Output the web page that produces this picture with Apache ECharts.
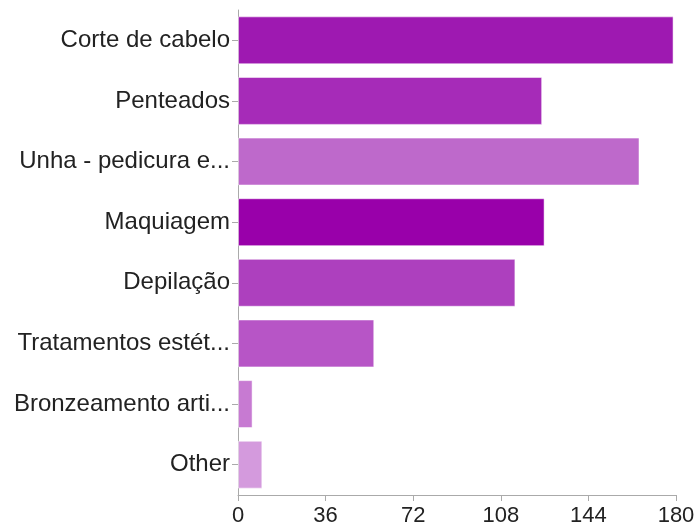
<!DOCTYPE html>
<html><head><meta charset="utf-8">
<script src="https://cdn.jsdelivr.net/npm/echarts@6/dist/echarts.min.js"></script>
<style>html,body{margin:0;padding:0;background:#fff}#c{width:699px;height:530px}</style>
</head><body><div id="c"></div>
<script>
const categories = ["Corte de cabelo","Penteados","Unha - pedicura e...","Maquiagem","Depilação","Tratamentos estét...","Bronzeamento arti...","Other"];
const values = [179, 125, 165, 126, 114, 56, 6, 10];
const colors = ["#9E19B1","#A62BB8","#BE69CB","#9900AA","#AD40BE","#B755C6","#C77AD2","#D49ADD"];
const xTicks = [0, 36, 72, 108, 144, 180];

const chart = echarts.init(document.getElementById('c'), null, {renderer:'canvas'});
chart.setOption({
  animation:false,
  grid:{left:238, right:23, top:10, bottom:35, containLabel:false},
  xAxis:{type:'value', min:xTicks[0], max:xTicks[xTicks.length-1], interval:36,
    axisLine:{show:true, lineStyle:{color:'#aaa', width:1}},
    axisTick:{show:true, length:6, lineStyle:{color:'#aaa'}},
    splitLine:{show:false},
    axisLabel:{color:'#222', fontSize:22, fontFamily:'Liberation Sans, Arial, sans-serif', margin:10}},
  yAxis:{type:'category', data:categories, inverse:true,
    axisLine:{show:true, lineStyle:{color:'#aaa', width:1}},
    axisTick:{show:true, length:6, alignWithLabel:true, lineStyle:{color:'#aaa'}},
    axisLabel:{color:'#222', fontSize:24, fontFamily:'Liberation Sans, Arial, sans-serif', margin:8, padding:[4,0,0,0]}},
  series:[{type:'bar', data:values.map((v,i)=>({value:v, itemStyle:{color:colors[i]}})),
    barCategoryGap:'21%',
    itemStyle:{borderColor:'rgba(255,255,255,0.5)', borderWidth:1}}]
});
</script></body></html>
